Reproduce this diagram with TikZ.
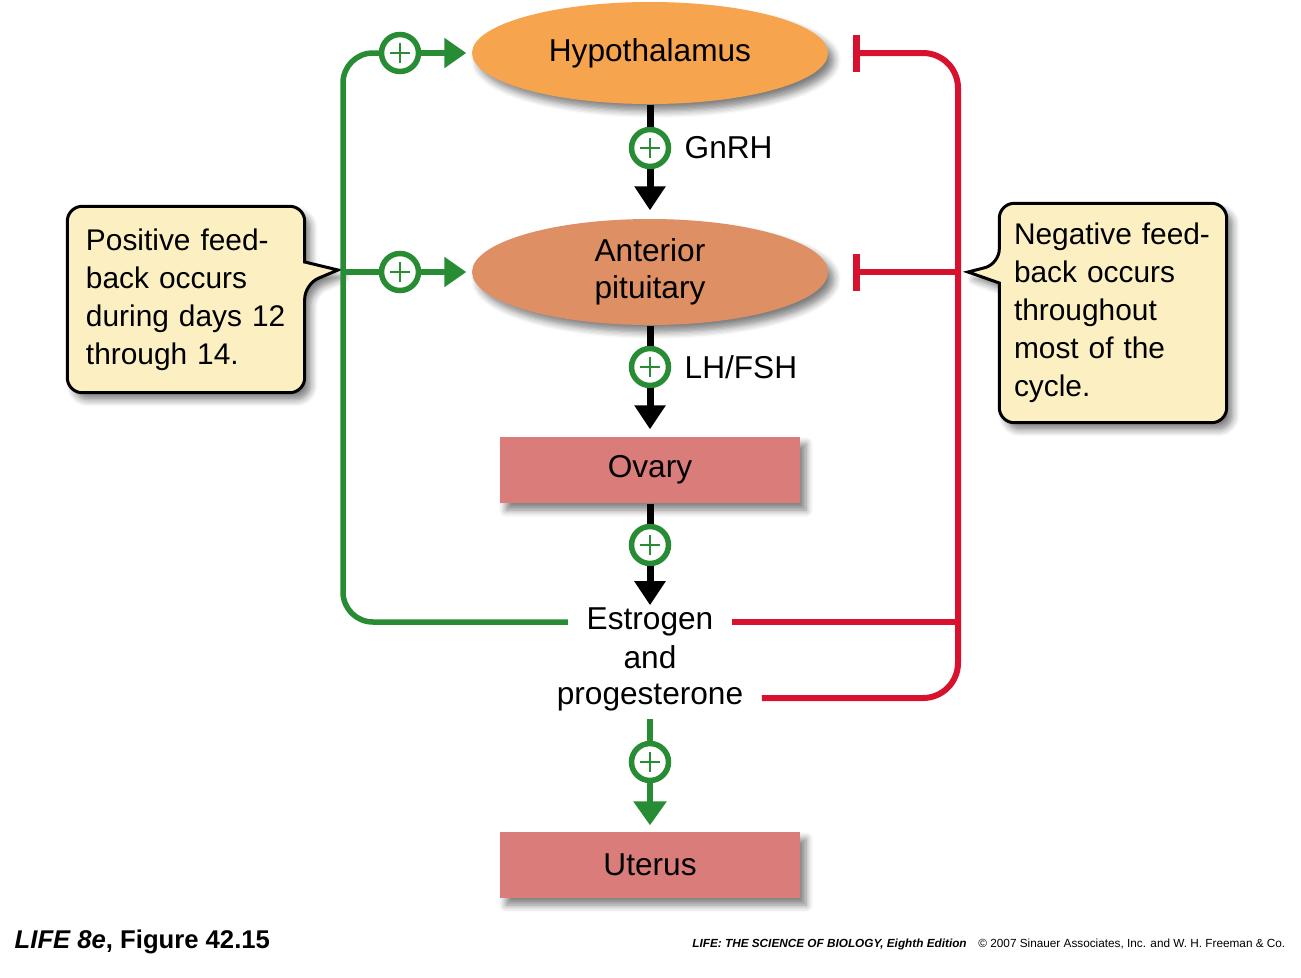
\documentclass[tikz,border=0pt]{standalone}
\usepackage{fontspec}
\setmainfont{Liberation Sans}
\usepackage{tikz}
\usetikzlibrary{positioning, arrows.meta, calc, shapes.geometric, shadows.blur, backgrounds}

\definecolor{hypocol}{RGB}{246,165,78}
\definecolor{pitcol}{RGB}{223,143,100}
\definecolor{ovcol}{RGB}{218,124,122}
\definecolor{notefill}{RGB}{252,240,195}
\definecolor{grn}{RGB}{40,140,52}
\definecolor{rd}{RGB}{214,18,46}

\begin{document}
\begin{tikzpicture}[
  >=Stealth,
  dropsh/.style={blur shadow={shadow xshift=0.06cm, shadow yshift=-0.07cm,
    shadow blur radius=0.07cm, shadow blur steps=6, shadow opacity=50}},
  gland/.style={ellipse, dropsh, minimum width=3.56cm, inner sep=0pt,
    align=center, font=\fontsize{9}{10.7}\selectfont},
  organ/.style={rectangle, dropsh, fill=ovcol, minimum width=3.0cm,
    minimum height=0.66cm, font=\fontsize{9}{10.7}\selectfont},
  horm/.style={inner xsep=0.18cm, inner ysep=0.02cm, font=\fontsize{9}{10.7}\selectfont},
  lbl/.style={font=\fontsize{9}{10.7}\selectfont},
  pluscirc/.style={circle, draw=grn, line width=0.055cm, fill=white,
    minimum size=0.37cm, inner sep=0pt,
    path picture={\draw[grn, line width=0.025cm]
      (path picture bounding box.center) +(-0.1,0) -- +(0.1,0)
      (path picture bounding box.center) +(0,-0.1) -- +(0,0.1);}},
  blkln/.style={line width=0.07cm},
  blkarr/.style={blkln, -{Triangle[width=0.30cm, length=0.24cm]}},
  grnln/.style={grn, line width=0.055cm},
  grnarr/.style={grnln, -{Triangle[width=0.29cm, length=0.22cm]}},
  redln/.style={rd, line width=0.06cm},
  inhib/.style={redln, -{Bar[width=0.37cm, line width=0.07cm]}, shorten >=0.24cm},
  notetxt/.style={align=left, font=\fontsize{8.5}{10.8}\selectfont},
  notebg/.style={draw=black, line width=0.03cm, fill=notefill, dropsh},
]
\useasboundingbox (0,0) rectangle (13.01,-9.78);

% === Main chain ===
\node[gland, fill=hypocol, minimum height=1.02cm] (hyp) at (6.50,-0.53) {Hypothalamus};
\node[pluscirc] (p1) at (6.50,-1.48) {};
\node[lbl, right=0.01cm of p1] (gnrh) {GnRH};
\node[gland, fill=pitcol, minimum height=1.06cm] (pit) at (6.50,-2.72) {Anterior\\pituitary};
\node[pluscirc] (p2) at (6.50,-3.67) {};
\node[lbl, right=0.01cm of p2] (lhfsh) {LH/FSH};
\node[organ] (ova) at (6.50,-4.70) {Ovary};
\node[pluscirc] (p3) at (6.50,-5.45) {};
\node[horm] (est) at (6.50,-6.22) {Estrogen};
\node[horm] (andtxt) at (6.50,-6.575) {and};
\node[horm] (prog) at (6.50,-6.98) {progesterone};
\node[pluscirc] (p4) at (6.50,-7.62) {};
\node[organ] (ute) at (6.50,-8.65) {Uterus};

\draw[blkln] (hyp) -- (p1);
\draw[blkarr, shorten >=0.08cm] (p1) -- (pit);
\draw[blkln] (pit) -- (p2);
\draw[blkarr, shorten >=0.07cm] (p2) -- (ova);
\draw[blkln] (ova) -- (p3);
\draw[blkarr] (p3) -- (est);
\draw[grnln, line width=0.065cm, shorten <=0.05cm] (prog) -- (p4);
\draw[grnln, line width=0.065cm, -{Triangle[width=0.32cm, length=0.24cm]},
  shorten >=0.06cm] (p4) -- (ute);

% === Positive feedback ===
\coordinate (gl) at (3.43,-2.72);
\node[pluscirc] (pa) at (4.00,-0.53) {};
\node[pluscirc] (pb) at (4.00,-2.72) {};
\draw[grnln, rounded corners=0.3cm] (est) -| (gl) |- (pa);
\draw[grnln] (gl) -- (pb);
\draw[grnarr, shorten >=0.05cm] (pa) -- (hyp);
\draw[grnarr, shorten >=0.05cm] (pb) -- (pit);

% === Negative feedback ===
\coordinate (rj) at (9.58,-2.72);
\draw[inhib, rounded corners=0.35cm] (prog) -| (rj) |- (hyp);
\draw[inhib] (rj) -- (pit);
\draw[redln] (est) -- (est -| rj);

% === Callouts ===
\node[notetxt, text width=2.0cm, inner xsep=0.18cm, minimum height=1.85cm]
  (pos) at (1.86,-2.995)
  {Positive feed-\\back occurs\\during days 12\\through 14.};
\node[notetxt, text width=1.98cm, inner xsep=0.14cm, minimum height=2.18cm]
  (neg) at (11.13,-3.13)
  {Negative feed-\\back occurs\\throughout\\most of the\\cycle.};

\begin{scope}[on background layer]
  \draw[notebg, rounded corners=0.15cm] ($(pos.east |- gl)+(0,0.10)$)
    -- (pos.north east) -- (pos.north west) -- (pos.south west)
    -- (pos.south east) -- ($(pos.east |- gl)+(0,-0.12)$)
    [sharp corners] -- ($(gl)+(-0.05,0.02)$) -- cycle;
  \draw[notebg, rounded corners=0.15cm] ($(neg.west |- rj)+(0,-0.11)$)
    -- (neg.south west) -- (neg.south east) -- (neg.north east)
    -- (neg.north west) -- ($(neg.west |- rj)+(0,0.08)$)
    [sharp corners] -- ($(rj)+(0.10,0)$) -- cycle;
\end{scope}

% === Footer ===
\node[anchor=base west, inner sep=0pt, font=\fontsize{7.3}{9}\selectfont\bfseries] (fig)
  at (0.14,-9.48) {\textit{LIFE 8e}, Figure 42.15};
\node[anchor=base east, inner sep=0pt, font=\fontsize{3.35}{4}\selectfont] (cred)
  at (12.86,-9.475) {\textbf{\textit{LIFE: THE SCIENCE OF BIOLOGY, Eighth Edition}}\quad
  © 2007 Sinauer Associates, Inc. and W. H. Freeman \& Co.};
\end{tikzpicture}
\end{document}
